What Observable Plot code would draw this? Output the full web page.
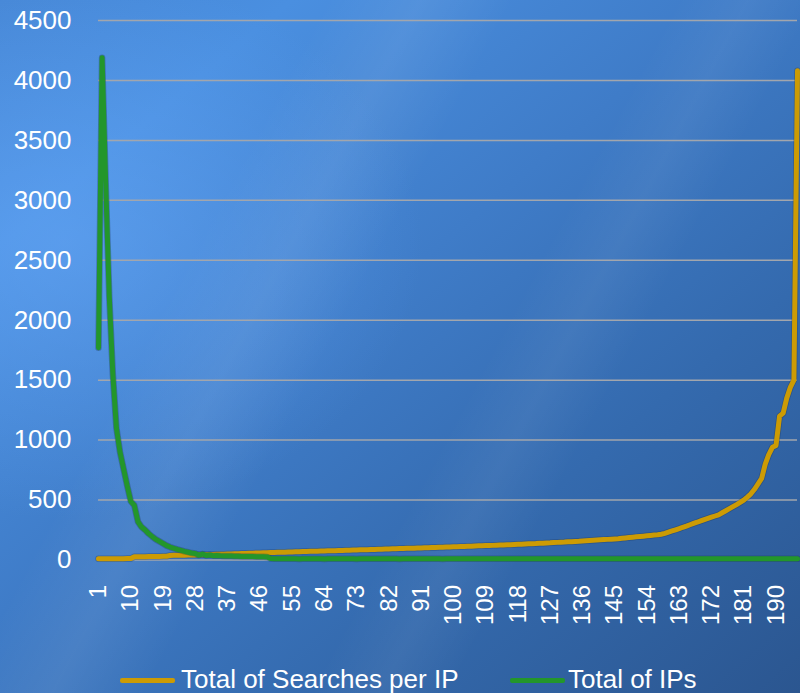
<!DOCTYPE html>
<html>
<head>
<meta charset="utf-8">
<script src="https://cdn.jsdelivr.net/npm/d3@7"></script>
<script src="https://cdn.jsdelivr.net/npm/@observablehq/plot@0.6"></script>
<style>
  html, body { margin: 0; padding: 0; }
  body {
    width: 800px; height: 693px; overflow: hidden;
    font-family: "Liberation Sans", Arial, sans-serif;
    background:
      radial-gradient(ellipse 45% 40% at 8% 35%, rgba(110,175,255,0.45), rgba(110,175,255,0) 100%),
      linear-gradient(118deg, rgba(255,255,255,0) 28%, rgba(255,255,255,0.07) 36%, rgba(255,255,255,0) 44%, rgba(255,255,255,0) 58%, rgba(255,255,255,0.05) 64%, rgba(255,255,255,0) 70%),
      linear-gradient(140deg, #4687d6 0%, #4a8fe0 18%, #3f7cc8 45%, #346aae 70%, #2b5690 100%);
  }
  #chart { position: relative; width: 800px; height: 693px; }
  #legend { position: relative; width: 800px; height: 53px; }
  .sw { position: absolute; top: 37.5px; height: 5px; width: 55px; border-radius: 2px; }
  .lt { position: absolute; top: 24px; font-size: 26px; line-height: 30px; color: #fff; white-space: nowrap; }
</style>
</head>
<body>
<div id="chart"></div>
<script>
// Total of Searches per IP, one value per ranked IP group (1..196)
const searchesPerIP = [
  10, 10, 10, 10, 11, 11, 11, 11, 12, 12,
  27, 27, 28, 28, 29, 29, 30, 30, 31, 31,
  38, 39, 39, 40, 40, 41, 42, 42, 43, 44,
  45, 46, 46, 47, 48, 49, 50, 51, 52, 53,
  54, 55, 56, 57, 58, 59, 60, 61, 62, 63,
  64, 65, 65, 66, 67, 68, 69, 70, 71, 72,
  73, 74, 75, 76, 77, 77, 78, 79, 80, 81,
  82, 83, 84, 85, 86, 86, 87, 88, 89, 90,
  91, 92, 93, 94, 95, 96, 97, 98, 99, 100,
  101, 102, 103, 104, 105, 106, 107, 108, 109, 110,
  111, 112, 113, 114, 115, 117, 118, 119, 120, 121,
  122, 124, 125, 126, 127, 128, 130, 131, 132, 134,
  135, 136, 137, 139, 140, 142, 143, 145, 147, 149,
  150, 152, 153, 155, 156, 158, 160, 162, 164, 166,
  168, 170, 172, 174, 176, 178, 181, 184, 187, 190,
  193, 196, 199, 202, 205, 208, 210, 215, 222, 232,
  242, 252, 262, 273, 283, 294, 305, 315, 326, 337,
  347, 357, 367, 377, 394, 411, 428, 445, 462, 480,
  500, 525, 552, 590, 635, 680, 800, 880, 940, 955,
  1200, 1225, 1350, 1440, 1500, 4080
];

// Total of IPs in each group
const totalIPs = [
  1770, 4190, 3150, 2200, 1550, 1100, 900, 760, 620, 490,
  455, 320, 275, 250, 220, 195, 172, 155, 138, 120,
  108, 98, 88, 80, 72, 65, 58, 54, 40, 50,
  38, 42, 36, 37, 35, 34, 34, 33, 32, 31,
  30, 30, 29, 29, 28, 28, 27, 26, 12, 11,
  10, 10, 11, 10, 10, 10, 9, 10, 10, 10,
  10, 10, 10, 9, 10, 10, 10, 10, 10, 10,
  10, 10, 9, 10, 10, 10, 10, 10, 10, 10,
  10, 10, 10, 10, 9, 10, 10, 10, 10, 10,
  10, 10, 10, 10, 10, 10, 9, 10, 10, 10,
  10, 10, 10, 10, 10, 10, 10, 10, 10, 10,
  10, 10, 10, 10, 10, 10, 10, 10, 10, 10,
  10, 10, 10, 10, 10, 10, 10, 10, 10, 10,
  10, 10, 10, 10, 10, 10, 10, 10, 10, 10,
  10, 10, 10, 10, 10, 10, 10, 10, 10, 10,
  10, 10, 10, 10, 10, 10, 10, 10, 10, 10,
  10, 10, 10, 10, 10, 10, 10, 10, 10, 10,
  10, 10, 10, 10, 10, 10, 10, 10, 10, 10,
  10, 10, 10, 10, 10, 10, 10, 10, 10, 10,
  10, 10, 10, 10, 10, 10
];

const xTickLabels = [1, 10, 19, 28, 37, 46, 55, 64, 73, 82, 91, 100, 109, 118, 127, 136, 145, 154, 163, 172, 181, 190];
const yTickLabels = [0, 500, 1000, 1500, 2000, 2500, 3000, 3500, 4000, 4500];

const seriesNames = ["Total of Searches per IP", "Total of IPs"];
const seriesColors = ["#cc9b04", "#23962b"];

const rows = (values) => values.map((v, i) => ({group: i + 1, value: v}));

// each series: a faint dark edge under the coloured stroke
const seriesLine = (values, color) => [
  Plot.lineY(rows(values), {x: "group", y: "value", stroke: "#1d3557", strokeOpacity: 0.35, strokeWidth: 6.5, strokeLinejoin: "round"}),
  Plot.lineY(rows(values), {x: "group", y: "value", stroke: color, strokeWidth: 5, strokeLinejoin: "round"})
];

const chart = Plot.plot({
  width: 800,
  height: 640,
  marginLeft: 98,
  marginRight: 3,
  marginTop: 20,
  marginBottom: 80.5,
  style: {background: "transparent", color: "#ffffff", fontFamily: "'Liberation Sans', Arial, sans-serif"},
  x: {domain: [1, searchesPerIP.length]},
  y: {domain: [0, 4500]},
  marks: [
    Plot.gridY(yTickLabels, {stroke: "#a2a6ad", strokeOpacity: 1, strokeWidth: 1.5}),
    Plot.axisY(yTickLabels, {tickSize: 0, tickPadding: 27, fontSize: 26, tickFormat: "d", label: null, fill: "#ffffff"}),
    Plot.axisX(xTickLabels, {tickSize: 0, tickPadding: 25, tickRotate: -90, fontSize: 24, tickFormat: "d", label: null, fill: "#ffffff"}),
    ...seriesLine(searchesPerIP, seriesColors[0]),
    ...seriesLine(totalIPs, seriesColors[1])
  ]
});

const root = document.getElementById("chart");
root.appendChild(chart);

// legend below the plot
const legend = document.createElement("div");
legend.id = "legend";
const swatchX = [120, 510];
const labelX = [181, 568];
seriesNames.forEach((name, i) => {
  const sw = document.createElement("div");
  sw.className = "sw";
  sw.style.left = swatchX[i] + "px";
  sw.style.background = seriesColors[i];
  legend.appendChild(sw);
  const t = document.createElement("div");
  t.className = "lt";
  t.style.left = labelX[i] + "px";
  t.textContent = name;
  legend.appendChild(t);
});
root.appendChild(legend);
</script>
</body>
</html>
